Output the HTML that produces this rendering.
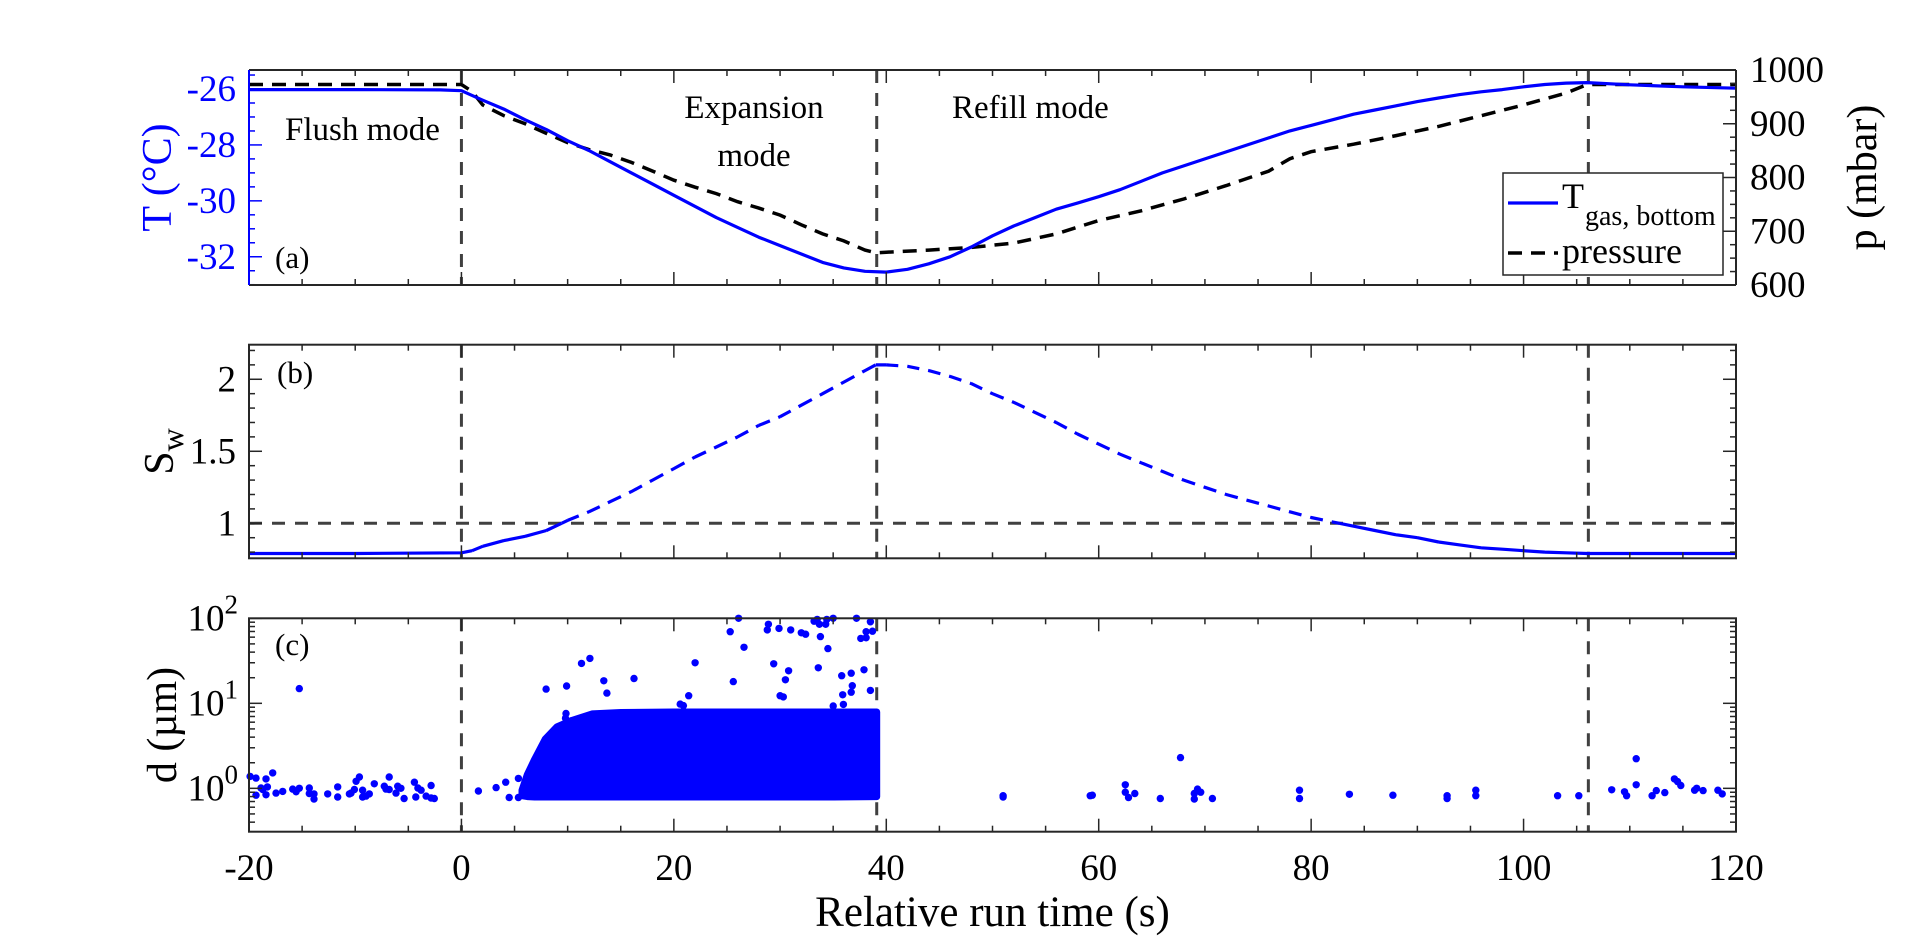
<!DOCTYPE html>
<html>
<head>
<meta charset="utf-8">
<style>
  html,body{margin:0;padding:0;background:#fff;}
  svg{display:block;font-family:"Liberation Serif","DejaVu Serif",serif;}
</style>
</head>
<body>
<svg id="fig" width="1920" height="936" viewBox="0 0 1920 936" xmlns="http://www.w3.org/2000/svg">
  <rect x="0" y="0" width="1920" height="936" fill="#fff"/>
</svg>
<script>
// ---------------- data ----------------
const timeT = [-20,-10,-2,0,2,4,6,8,10,12,14,16,18,20,22,24,26,28,30,32,34,36,38,40,42,44,46,48,50,52,54,56,58,60,62,64,66,68,70,72,74,76,78,80,82,84,86,88,90,92,94,96,98,100,102,104,106,110,115,120];
const tempT = [-26.02,-26.02,-26.03,-26.06,-26.4,-26.72,-27.1,-27.45,-27.85,-28.2,-28.6,-29.0,-29.4,-29.8,-30.2,-30.6,-30.95,-31.3,-31.6,-31.9,-32.2,-32.4,-32.52,-32.55,-32.45,-32.25,-32.0,-31.65,-31.25,-30.9,-30.6,-30.3,-30.08,-29.85,-29.6,-29.3,-29.0,-28.75,-28.5,-28.25,-28.0,-27.75,-27.5,-27.3,-27.1,-26.9,-26.75,-26.6,-26.45,-26.32,-26.2,-26.1,-26.02,-25.92,-25.84,-25.79,-25.77,-25.85,-25.92,-25.97];
const timeP = [-20,0,1,2,4,6,8,10,12,14,16,18,20,22,24,26,28,30,32,34,36,38,39,40,44,48,52,56,60,64,68,72,76,78,80,84,88,92,96,98,100,102,104,106,110,120];
const presP = [973,973,960,935,915,900,882,865,852,842,828,812,795,782,770,755,743,730,712,695,682,665,660,661,665,670,678,695,720,738,760,785,812,835,848,862,878,895,915,925,935,946,957,973,973,973];
const timeS = [-20,-10,0,1,2,4,6,8,10,12,14,16,18,20,22,24,26,28,30,32,34,36,38,39,40,42,44,46,48,50,52,54,56,58,60,62,64,66,68,70,72,74,76,78,80,82,84,86,88,90,92,94,96,98,100,102,104,106,110,120];
const swS = [0.79,0.79,0.795,0.81,0.84,0.88,0.91,0.95,1.02,1.08,1.15,1.22,1.3,1.38,1.46,1.53,1.6,1.68,1.74,1.82,1.9,1.98,2.06,2.1,2.1,2.09,2.06,2.02,1.97,1.9,1.84,1.77,1.7,1.62,1.55,1.48,1.42,1.36,1.3,1.25,1.2,1.16,1.12,1.08,1.04,1.01,0.98,0.95,0.92,0.9,0.87,0.85,0.83,0.82,0.81,0.8,0.795,0.79,0.79,0.79];
const dotT = [-19.9,-19.34,-19.34,-18.87,-18.7,-18.4,-18.4,-18.27,-17.77,-17.46,-16.83,-15.89,-15.57,-15.26,-15.26,-14.32,-14.32,-13.88,-13.88,-12.59,-11.65,-11.65,-10.55,-10.4,-10.08,-9.92,-9.61,-9.3,-9.3,-8.98,-8.67,-8.2,-7.26,-7.1,-6.8,-6.8,-6.16,-6.0,-5.7,-5.4,-4.43,-4.3,-4.1,-3.8,-3.33,-2.86,-2.86,-2.55,
  1.6,3.26,4.17,4.5,5.36,5.36,7.97,9.9,11.3,12.1,13.4,13.7,16.25,9.85,9.8,
  26.1,25.3,28.9,28.8,29.9,31.0,32.0,32.4,33.2,33.5,33.7,34.3,34.4,35.0,33.8,34.5,37.2,38.5,38.1,38.7,37.6,38.1,22.0,26.6,25.6,29.4,30.8,30.5,33.6,35.8,36.7,37.9,36.8,36.7,35.9,38.5,21.4,20.6,20.9,30.0,30.3,35.0,35.96,
  51.0,51.0,59.2,59.4,62.5,62.5,62.8,63.4,65.8,67.7,69.0,69.0,69.3,69.6,70.7,78.9,78.9,83.6,87.7,92.8,92.8,
  95.5,95.5,103.2,105.2,108.3,109.5,109.7,110.6,110.6,112.1,112.5,113.3,114.2,114.5,114.8,116.1,116.3,116.9,118.3,118.7];
const dotD = [1.38,1.32,0.83,1.01,0.97,1.29,0.84,1.04,1.52,0.88,0.92,0.98,0.91,1.0,14.9,1.01,0.87,0.75,0.86,0.86,1.04,0.79,0.86,0.88,0.97,1.21,1.36,0.95,0.79,0.81,0.86,1.13,1.06,0.98,1.36,0.97,0.88,1.06,1.0,0.76,1.18,0.79,1.01,0.95,0.81,1.08,0.77,0.76,
  0.93,1.02,1.18,0.78,0.78,1.31,14.7,16.0,29.5,33.8,18.4,13.2,19.6,7.6,6.7,
  100,69.5,85,73,76,73,67.6,65,92.5,97,85,85,97,100,61,44,100,91,69.5,70.6,58,59,30,45.6,18,29.2,24.1,18.9,26.2,21.1,22.6,24.8,16.1,13.5,12.6,14.2,12.3,9.8,9.4,12.3,11.9,9.3,9.7,
  0.82,0.79,0.82,0.83,1.1,0.9,0.78,0.87,0.76,2.3,0.87,0.75,0.98,0.9,0.76,0.95,0.76,0.85,0.83,0.82,0.76,
  0.95,0.82,0.82,0.82,0.96,0.91,0.82,2.23,1.1,0.82,0.94,0.89,1.29,1.2,1.08,0.95,1.0,0.94,0.95,0.86];
const blobT = [5.7,6.2,6.9,7.9,9.0,10.4,12.3,15,20,25,30,35,39.1];
const blobUpper = [0.95,1.45,2.2,3.8,5.3,6.3,7.5,7.8,7.9,7.9,7.9,7.9,7.9];
const blobLower = [0.82,0.8,0.79,0.79,0.79,0.79,0.79,0.79,0.79,0.79,0.79,0.79,0.8];
const modeLines = [0, 39.1, 106.1];
const xTicks = [-20,0,20,40,60,80,100,120];
const tTicks = [-32,-30,-28,-26];
const pTicks = [600,700,800,900,1000];
const sTicks = [1,1.5,2];
const dTicks = [0,1,2];

// ---------------- geometry ----------------
const L=249, R=1736;
const A={top:70,bot:285}, B={top:344.7,bot:558.3}, C={top:618.3,bot:831.7};
const X = t => L + (t+20)*(R-L)/140;
const YT = v => A.bot - (v-(-33.01))*(A.bot-A.top)/((-25.32)-(-33.01));
const YP = v => A.bot - (v-600)*(A.bot-A.top)/400;
const YS = v => B.bot - (v-0.757)*(B.bot-B.top)/(2.24-0.757);
const YD = v => C.bot - (Math.log10(v)-(-0.51))*(C.bot-C.top)/(2-(-0.51));

const svg=document.getElementById('fig');
const NS='http://www.w3.org/2000/svg';
function mk(tag,attrs,parent){const e=document.createElementNS(NS,tag);for(const k in attrs)e.setAttribute(k,attrs[k]);(parent||svg).appendChild(e);return e;}
function grp(name){const g=mk('g',{});return g;}
function txt(s,x,y,size,parent,extra){const e=mk('text',Object.assign({x:x,y:y,'font-size':size},extra||{}),parent);e.textContent=s;return e;}

// ---------- panels x ticks ----------
function xAxisTicks(P,g){
  for(let t=-20;t<=120;t+=5){
    const major = xTicks.includes(t);
    const len = major?13:6;
    mk('line',{x1:X(t),x2:X(t),y1:P.bot,y2:P.bot-len,stroke:'#262626','stroke-width':1.5},g);
    mk('line',{x1:X(t),x2:X(t),y1:P.top,y2:P.top+len,stroke:'#262626','stroke-width':1.5},g);
  }
}
function modeLinesIn(P,g){
  for(const m of modeLines){
    const l=mk('line',{x1:X(m),x2:X(m),y1:P.top,y2:P.bot,stroke:'#404040','stroke-width':3,'stroke-dasharray':'13 10'},g);
    
    
  }
}
function pathD(xs,ys,fx,fy){return xs.map((t,i)=>(i?'L':'M')+fx(t).toFixed(1)+' '+fy(ys[i]).toFixed(1)).join(' ');}

// ================= PANEL A =================
const ga=grp('panel-a-temperature-pressure');
modeLinesIn(A,ga);
const pLine=mk('path',{d:pathD(timeP,presP,X,YP),fill:'none',stroke:'#000','stroke-width':3.5,'stroke-dasharray':'14 9'},ga);


const tLine=mk('path',{d:pathD(timeT,tempT,X,YT),fill:'none',stroke:'#0000ff','stroke-width':3.2,'stroke-linejoin':'round'},ga);


xAxisTicks(A,ga);
// left T axis (blue)
for(let v=-33;v<=-25.5;v+=0.5){
  const major=tTicks.includes(v);
  mk('line',{x1:L,x2:L+(major?13:6),y1:YT(v),y2:YT(v),stroke:'#0000ff','stroke-width':1.5},ga);
}
for(const v of tTicks){const e=txt(String(v),236,YT(v)+12,37,ga,{fill:'#0000ff','text-anchor':'end'});}
// right p axis
for(let v=600;v<=1000;v+=25){
  const major=pTicks.includes(v);
  mk('line',{x1:R,x2:R-(major?13:6),y1:YP(v),y2:YP(v),stroke:'#262626','stroke-width':1.5},ga);
}
for(const v of pTicks){const e=txt(String(v),1750,YP(v)+12,37,ga,{fill:'#000'});}
mk('line',{x1:L,x2:R,y1:A.top,y2:A.top,stroke:'#262626','stroke-width':2},ga);
mk('line',{x1:L,x2:R,y1:A.bot,y2:A.bot,stroke:'#262626','stroke-width':2},ga);
mk('line',{x1:R,x2:R,y1:A.top,y2:A.bot,stroke:'#262626','stroke-width':2},ga);
mk('line',{x1:L,x2:L,y1:A.top,y2:A.bot,stroke:'#0000ff','stroke-width':2},ga);
// titles
const tTitle=txt('T (°C)',0,0,42,ga,{fill:'#0000ff','text-anchor':'middle',transform:'translate(171,177.5) rotate(-90)'});


const pTitle=txt('p (mbar)',0,0,42,ga,{fill:'#000','text-anchor':'middle',transform:'translate(1876,177.5) rotate(-90)'});


const la=txt('(a)',275,268,31,ga);
const m1=txt('Flush mode',285,140,33,ga);
const m2=txt('Expansion',754,118,33,ga,{'text-anchor':'middle'});
const m2b=txt('mode',754,166,33,ga,{'text-anchor':'middle'});
const m3=txt('Refill mode',952,118,33,ga);
// legend
const lg=grp('legend');
mk('rect',{x:1503,y:173,width:220,height:102,fill:'#fff',stroke:'#262626','stroke-width':1.5},lg);
mk('line',{x1:1508,x2:1558,y1:203,y2:203,stroke:'#0000ff','stroke-width':3.2},lg);
const lt=txt('T',1562,208,36,lg);
txt('gas, bottom',1585,225,28,lg);
mk('line',{x1:1508,x2:1558,y1:253,y2:253,stroke:'#000','stroke-width':3.5,'stroke-dasharray':'14 9'},lg);
const lp=txt('pressure',1562,263,36,lg);

// ================= PANEL B =================
const gb=grp('panel-b-saturation');
modeLinesIn(B,gb);
const oneLine=mk('line',{x1:L,x2:R,y1:YS(1),y2:YS(1),stroke:'#404040','stroke-width':3,'stroke-dasharray':'13 10'},gb);


let solid='',dashed='';
for(let i=0;i<timeS.length-1;i++){
  const t0=timeS[i],t1=timeS[i+1],s0=swS[i],s1=swS[i+1];
  const seg=(a,b,c,d)=>'M'+X(a).toFixed(1)+' '+YS(b).toFixed(1)+' L'+X(c).toFixed(1)+' '+YS(d).toFixed(1)+' ';
  if((s0<=1)===(s1<=1)){ if(s0<=1) solid+=seg(t0,s0,t1,s1); else dashed+=seg(t0,s0,t1,s1); }
  else { const tc=t0+(1-s0)*(t1-t0)/(s1-s0);
    if(s0<=1){solid+=seg(t0,s0,tc,1);dashed+=seg(tc,1,t1,s1);} else {dashed+=seg(t0,s0,tc,1);solid+=seg(tc,1,t1,s1);} }
}
const swSolid=mk('path',{d:solid,fill:'none',stroke:'#0000ff','stroke-width':3.2,'stroke-linejoin':'round'},gb);


const swDash=mk('path',{d:dashed,fill:'none',stroke:'#0000ff','stroke-width':3.2,'stroke-dasharray':'12 9'},gb);


xAxisTicks(B,gb);
for(let v=0.8;v<=2.21;v+=0.1){
  const vv=Math.round(v*10)/10;
  const major=sTicks.includes(vv);
  mk('line',{x1:L,x2:L+(major?13:6),y1:YS(vv),y2:YS(vv),stroke:'#262626','stroke-width':1.5},gb);
  mk('line',{x1:R,x2:R-(major?13:6),y1:YS(vv),y2:YS(vv),stroke:'#262626','stroke-width':1.5},gb);
}
for(const v of sTicks){const e=txt(String(v),236,YS(v)+12,37,gb,{'text-anchor':'end'});}
mk('rect',{x:L,y:B.top,width:R-L,height:B.bot-B.top,fill:'none',stroke:'#262626','stroke-width':2},gb);
const sTitle=mk('text',{transform:'translate(173,451.5) rotate(-90)','text-anchor':'middle','font-size':42},gb);


sTitle.innerHTML='S<tspan font-size="32" dy="10">w</tspan>';
const lb=txt('(b)',277,383,31,gb);

// ================= PANEL C =================
const gc=grp('panel-c-droplet-diameter');
modeLinesIn(C,gc);
let bp='';
blobT.forEach((t,i)=>{bp+=(i?'L':'M')+X(t).toFixed(1)+' '+YD(blobUpper[i]).toFixed(1)+' ';});
for(let i=blobT.length-1;i>=0;i--){bp+='L'+X(blobT[i]).toFixed(1)+' '+YD(blobLower[i]).toFixed(1)+' ';}
const blob=mk('path',{d:bp+'Z',fill:'#0000ff',stroke:'#0000ff','stroke-width':7,'stroke-linejoin':'round'},gc);


dotT.forEach((t,i)=>{
  const c=mk('circle',{cx:X(t).toFixed(1),cy:YD(dotD[i]).toFixed(1),r:3.7,fill:'#0000ff'},gc);
  
  
});
xAxisTicks(C,gc);
for(let dec=-1;dec<=1;dec++){
  for(let k=1;k<=9;k++){
    const v=k*Math.pow(10,dec);
    const lv=Math.log10(v); if(lv<-0.51||lv>2.001) continue;
    const len=k===1?13:6;
    mk('line',{x1:L,x2:L+len,y1:YD(v),y2:YD(v),stroke:'#262626','stroke-width':1.5},gc);
    mk('line',{x1:R,x2:R-len,y1:YD(v),y2:YD(v),stroke:'#262626','stroke-width':1.5},gc);
  }
}
mk('line',{x1:L,x2:L+13,y1:YD(100),y2:YD(100),stroke:'#262626','stroke-width':1.5},gc);
for(const e of dTicks){
  const t=mk('text',{x:238,y:YD(Math.pow(10,e))+12,'font-size':37,'text-anchor':'end'},gc);
  
  
  t.innerHTML='10<tspan font-size="27" dy="-17">'+e+'</tspan>';
}
mk('rect',{x:L,y:C.top,width:R-L,height:C.bot-C.top,fill:'none',stroke:'#262626','stroke-width':2},gc);
const dTitle=txt('d (µm)',0,0,42,gc,{'text-anchor':'middle',transform:'translate(176,725) rotate(-90)'});


const lc=txt('(c)',275,655,31,gc);

// x tick labels + title
const gx=grp('x-axis');
for(const t of xTicks){const e=txt(String(t),X(t),880,37,gx,{'text-anchor':'middle'});}
const xTitle=txt('Relative run time (s)',(L+R)/2,926,43,gx,{'text-anchor':'middle'});


</script>
</body>
</html>
